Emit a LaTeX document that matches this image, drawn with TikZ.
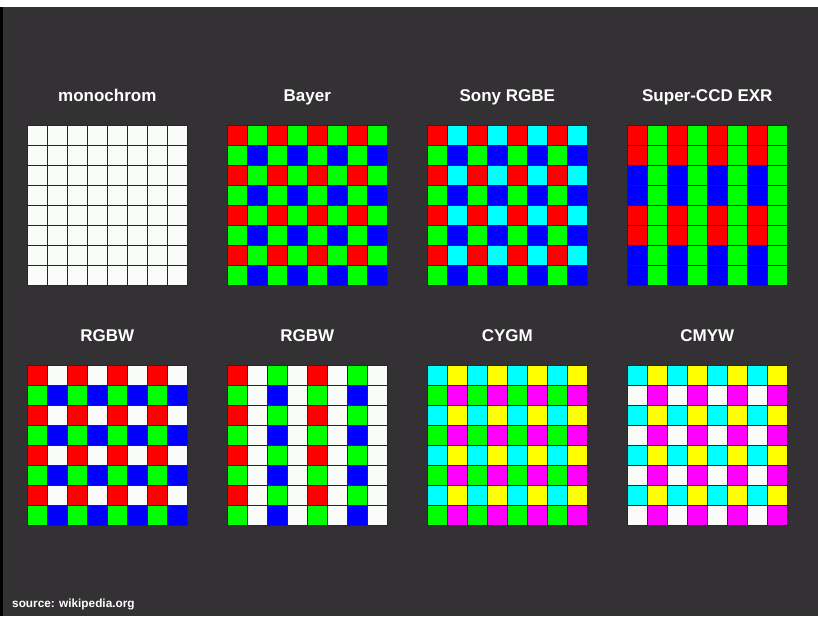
\documentclass[tikz,border=0pt]{standalone}
\usepackage{fontspec}
\setmainfont{Liberation Sans}
\definecolor{bg}{HTML}{333133}
\definecolor{R}{HTML}{FF0000}
\definecolor{G}{HTML}{00FF00}
\definecolor{B}{HTML}{0000FF}
\definecolor{C}{HTML}{00FFFF}
\definecolor{Y}{HTML}{FFFF00}
\definecolor{M}{HTML}{FF00FF}
\definecolor{W}{HTML}{FAFCFA}
\tikzset{
  title/.style={text=white, font=\bfseries\fontsize{17}{19}\selectfont, anchor=base},
  cellline/.style={draw=black!85, line width=0.9pt},
  srcnote/.style={text=white, font=\bfseries\fontsize{11.8}{14}\selectfont, anchor=base west, inner sep=0pt},
}
% \sensorgrid{x0}{y0}{rows}
\newcommand{\sensorgrid}[3]{%
  \foreach \rowlist [count=\i from 0] in {#3} {%
    \foreach \cl [count=\j from 0] in \rowlist {%
      \path[fill=\cl] (#1+20*\j,#2+20*\i) rectangle ++(20,20);
    }%
  }%
  \foreach \k in {0,...,8} {%
    \draw[cellline] (#1+20*\k,#2) -- (#1+20*\k,#2+160);
    \draw[cellline] (#1,#2+20*\k) -- (#1+160,#2+20*\k);
  }%
}
\begin{document}
\begin{tikzpicture}[x=1pt,y=-1pt]
\useasboundingbox (0,0) rectangle (818,616);
\fill[bg] (0,0) rectangle (818,616);
\fill[white] (0,0) rectangle (818,7);
\fill[black] (0,7) rectangle (2.5,616);

% titles
\node[title] (t1) at (107.3,101) {monochrom};
\node[title] (t2) at (307.3,101) {Bayer};
\node[title] (t3) at (507.3,101) {Sony RGBE};
\node[title] (t4) at (707.3,101) {Super-CCD EXR};
\node[title] (t5) at (107.3,341) {RGBW};
\node[title] (t6) at (307.3,341) {RGBW};
\node[title] (t7) at (507.3,341) {CYGM};
\node[title] (t8) at (707.3,341) {CMYW};

% monochrom
\sensorgrid{27.3}{125.5}{
{W,W,W,W,W,W,W,W},{W,W,W,W,W,W,W,W},{W,W,W,W,W,W,W,W},{W,W,W,W,W,W,W,W},
{W,W,W,W,W,W,W,W},{W,W,W,W,W,W,W,W},{W,W,W,W,W,W,W,W},{W,W,W,W,W,W,W,W}}
% Bayer
\sensorgrid{227.3}{125.5}{
{R,G,R,G,R,G,R,G},{G,B,G,B,G,B,G,B},{R,G,R,G,R,G,R,G},{G,B,G,B,G,B,G,B},
{R,G,R,G,R,G,R,G},{G,B,G,B,G,B,G,B},{R,G,R,G,R,G,R,G},{G,B,G,B,G,B,G,B}}
% Sony RGBE
\sensorgrid{427.3}{125.5}{
{R,C,R,C,R,C,R,C},{G,B,G,B,G,B,G,B},{R,C,R,C,R,C,R,C},{G,B,G,B,G,B,G,B},
{R,C,R,C,R,C,R,C},{G,B,G,B,G,B,G,B},{R,C,R,C,R,C,R,C},{G,B,G,B,G,B,G,B}}
% Super-CCD EXR
\sensorgrid{627.3}{125.5}{
{R,G,R,G,R,G,R,G},{R,G,R,G,R,G,R,G},{B,G,B,G,B,G,B,G},{B,G,B,G,B,G,B,G},
{R,G,R,G,R,G,R,G},{R,G,R,G,R,G,R,G},{B,G,B,G,B,G,B,G},{B,G,B,G,B,G,B,G}}
% RGBW 1
\sensorgrid{27.3}{365.5}{
{R,W,R,W,R,W,R,W},{G,B,G,B,G,B,G,B},{R,W,R,W,R,W,R,W},{G,B,G,B,G,B,G,B},
{R,W,R,W,R,W,R,W},{G,B,G,B,G,B,G,B},{R,W,R,W,R,W,R,W},{G,B,G,B,G,B,G,B}}
% RGBW 2
\sensorgrid{227.3}{365.5}{
{R,W,G,W,R,W,G,W},{G,W,B,W,G,W,B,W},{R,W,G,W,R,W,G,W},{G,W,B,W,G,W,B,W},
{R,W,G,W,R,W,G,W},{G,W,B,W,G,W,B,W},{R,W,G,W,R,W,G,W},{G,W,B,W,G,W,B,W}}
% CYGM
\sensorgrid{427.3}{365.5}{
{C,Y,C,Y,C,Y,C,Y},{G,M,G,M,G,M,G,M},{C,Y,C,Y,C,Y,C,Y},{G,M,G,M,G,M,G,M},
{C,Y,C,Y,C,Y,C,Y},{G,M,G,M,G,M,G,M},{C,Y,C,Y,C,Y,C,Y},{G,M,G,M,G,M,G,M}}
% CMYW
\sensorgrid{627.3}{365.5}{
{C,Y,C,Y,C,Y,C,Y},{W,M,W,M,W,M,W,M},{C,Y,C,Y,C,Y,C,Y},{W,M,W,M,W,M,W,M},
{C,Y,C,Y,C,Y,C,Y},{W,M,W,M,W,M,W,M},{C,Y,C,Y,C,Y,C,Y},{W,M,W,M,W,M,W,M}}

\node[srcnote] (src) at (12,607.5) {source: wikipedia.org};
\end{tikzpicture}
\end{document}
